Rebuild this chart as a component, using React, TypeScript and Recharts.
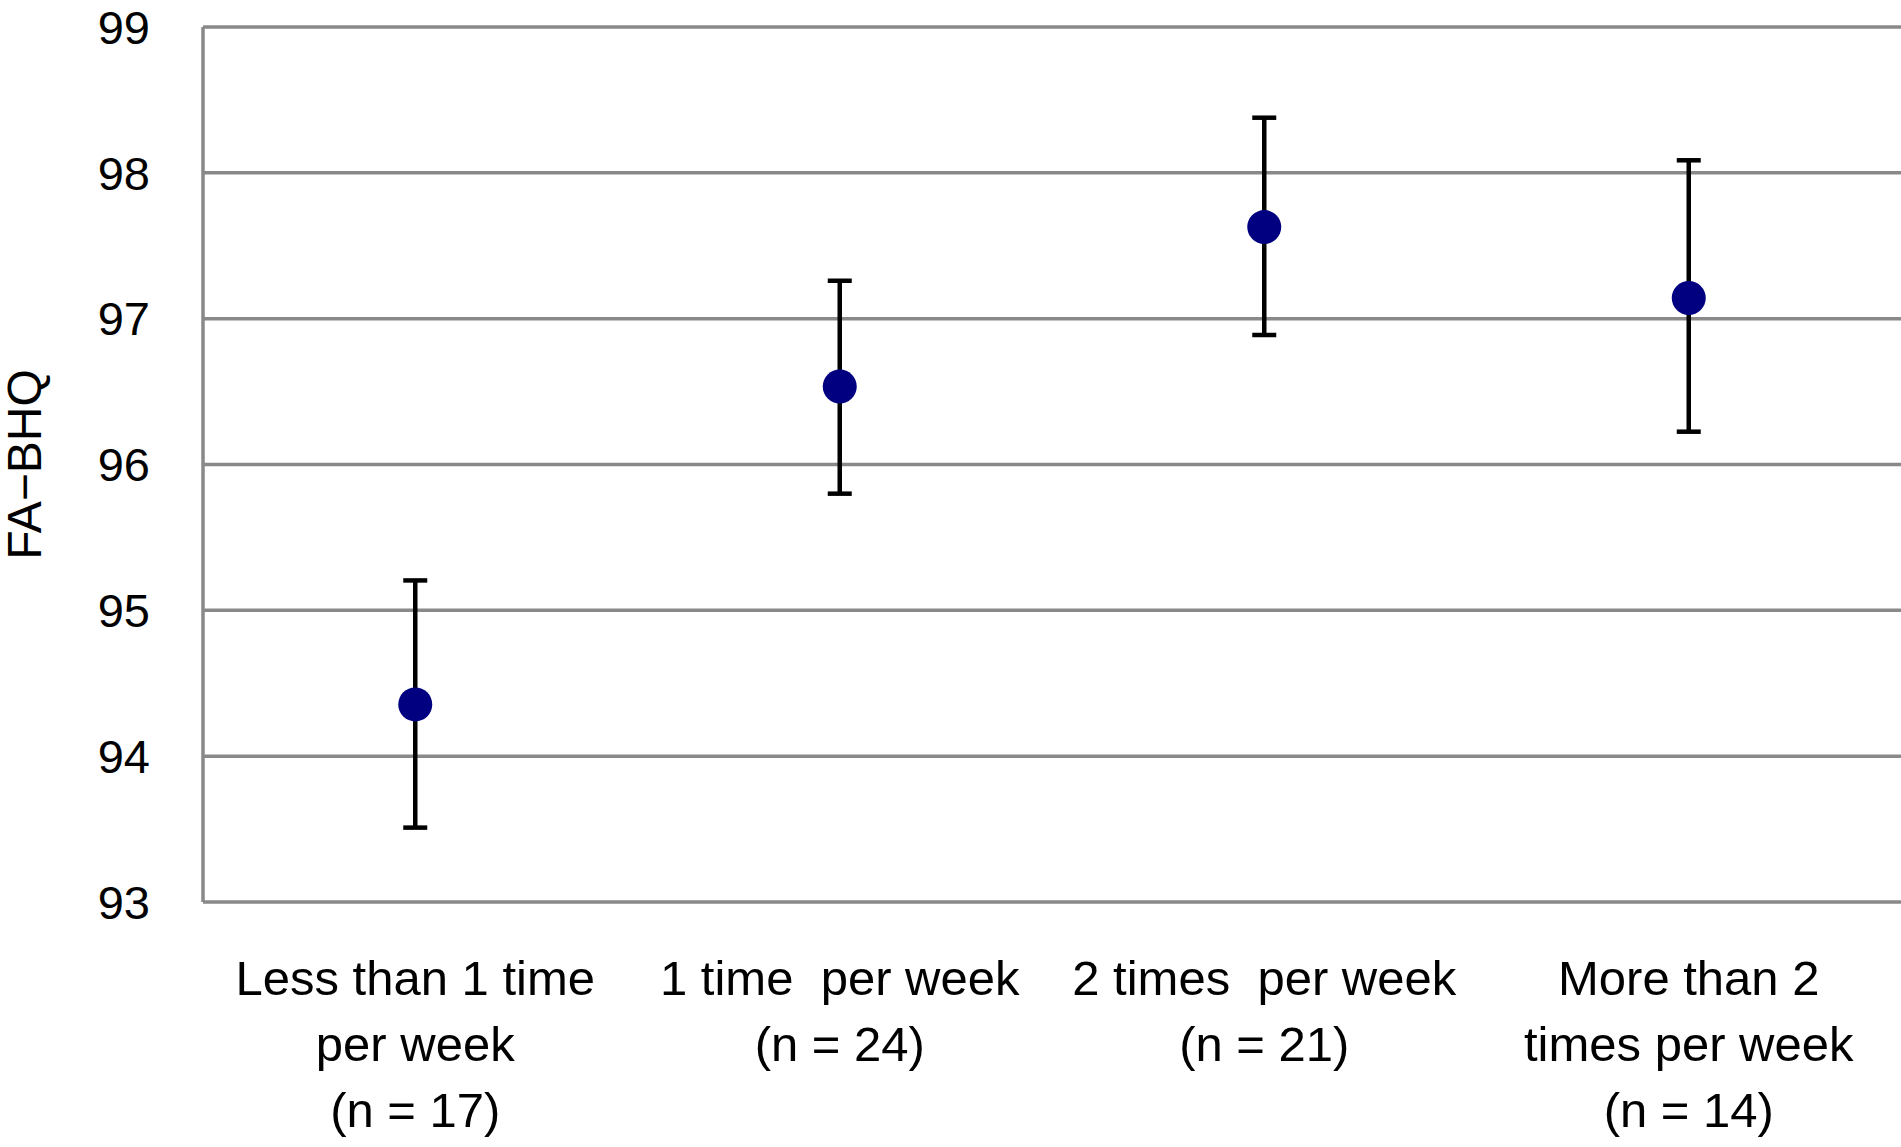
import React from 'react';
import { ComposedChart, Line, XAxis, YAxis, CartesianGrid, ErrorBar } from 'recharts';

const categories = ['less1', 'once', 'twice', 'more2'];
const tickLines = [
  ['Less than 1 time', 'per week', '(n = 17)'],
  ['1 time  per week', '(n = 24)'],
  ['2 times  per week', '(n = 21)'],
  ['More than 2', 'times per week', '(n = 14)'],
];
const means = [94.355, 96.535, 97.628, 97.142];
// [below, above]
const errors = [
  [0.845, 0.85],
  [0.735, 0.725],
  [0.74, 0.75],
  [0.917, 0.944],
];
const yTicks = [93, 94, 95, 96, 97, 98, 99];

const data = categories.map((c, i) => ({ name: c, mean: means[i], err: errors[i] }));

const GRID = '#898989';
const FONT = '"Liberation Sans", Arial, sans-serif';

const CategoryTick = (props: any) => {
  const { x, y, index } = props;
  const lines = tickLines[index] || [];
  return (
    <text x={x} y={y} textAnchor="middle" fontFamily={FONT} fontSize={49} fill="#000" style={{ whiteSpace: 'pre' }}>
      {lines.map((l, i) => (
        <tspan key={i} x={x} dy={i === 0 ? 93 : 66}>
          {l}
        </tspan>
      ))}
    </text>
  );
};

const App = () => {
  return (
    <div style={{ position: 'absolute', left: 0, top: 0 }}>
      <ComposedChart width={1901} height={1147} data={data} margin={{ top: 27, right: 0, bottom: 0, left: 0 }}>
        <CartesianGrid vertical={false} stroke={GRID} strokeWidth={3.5} />
        <XAxis
          dataKey="name"
          scale="band"
          axisLine={false}
          tickLine={false}
          tickSize={0}
          tickMargin={0}
          height={245}
          interval={0}
          tick={<CategoryTick />}
        />
        <YAxis
          type="number"
          domain={[93, 99]}
          ticks={yTicks}
          width={203}
          axisLine={{ stroke: GRID, strokeWidth: 3.5 }}
          tickLine={false}
          tickSize={0}
          tickMargin={53}
          tick={{ fontFamily: FONT, fontSize: 47, fill: '#000' }}
          label={{
            value: 'FA−BHQ',
            angle: -90,
            position: 'insideLeft',
            offset: 24,
            style: { textAnchor: 'middle', fontFamily: FONT, fontSize: 48, fill: '#000' },
          }}
        />
        <Line
          dataKey="mean"
          stroke="none"
          isAnimationActive={false}
          dot={{ r: 17, fill: '#000080', stroke: 'none' }}
          activeDot={false}
        >
          <ErrorBar dataKey="err" direction="y" width={12} strokeWidth={4.5} stroke="#000" />
        </Line>
      </ComposedChart>
    </div>
  );
};

export default App;
